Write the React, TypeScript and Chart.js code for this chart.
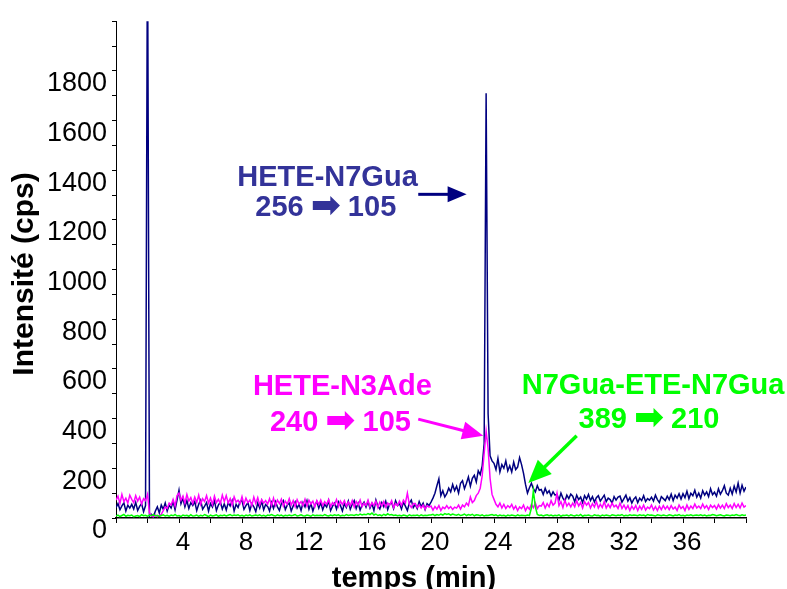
import React, { useEffect, useRef } from 'react';
import { Chart, registerables } from 'chart.js';

Chart.register(...registerables);

// Retention times (min), 8 samples per minute
const TIMES = [
  0, 0.125, 0.25, 0.375, 0.5, 0.625, 0.75, 0.875,
  1, 1.125, 1.25, 1.375, 1.5, 1.625, 1.75, 1.875,
  2, 2.125, 2.25, 2.375, 2.5, 2.625, 2.75, 2.875,
  3, 3.125, 3.25, 3.375, 3.5, 3.625, 3.75, 3.875,
  4, 4.125, 4.25, 4.375, 4.5, 4.625, 4.75, 4.875,
  5, 5.125, 5.25, 5.375, 5.5, 5.625, 5.75, 5.875,
  6, 6.125, 6.25, 6.375, 6.5, 6.625, 6.75, 6.875,
  7, 7.125, 7.25, 7.375, 7.5, 7.625, 7.75, 7.875,
  8, 8.125, 8.25, 8.375, 8.5, 8.625, 8.75, 8.875,
  9, 9.125, 9.25, 9.375, 9.5, 9.625, 9.75, 9.875,
  10, 10.125, 10.25, 10.375, 10.5, 10.625, 10.75, 10.875,
  11, 11.125, 11.25, 11.375, 11.5, 11.625, 11.75, 11.875,
  12, 12.125, 12.25, 12.375, 12.5, 12.625, 12.75, 12.875,
  13, 13.125, 13.25, 13.375, 13.5, 13.625, 13.75, 13.875,
  14, 14.125, 14.25, 14.375, 14.5, 14.625, 14.75, 14.875,
  15, 15.125, 15.25, 15.375, 15.5, 15.625, 15.75, 15.875,
  16, 16.125, 16.25, 16.375, 16.5, 16.625, 16.75, 16.875,
  17, 17.125, 17.25, 17.375, 17.5, 17.625, 17.75, 17.875,
  18, 18.125, 18.25, 18.375, 18.5, 18.625, 18.75, 18.875,
  19, 19.125, 19.25, 19.375, 19.5, 19.625, 19.75, 19.875,
  20, 20.125, 20.25, 20.375, 20.5, 20.625, 20.75, 20.875,
  21, 21.125, 21.25, 21.375, 21.5, 21.625, 21.75, 21.875,
  22, 22.125, 22.25, 22.375, 22.5, 22.625, 22.75, 22.875,
  23, 23.125, 23.25, 23.375, 23.5, 23.625, 23.75, 23.875,
  24, 24.125, 24.25, 24.375, 24.5, 24.625, 24.75, 24.875,
  25, 25.125, 25.25, 25.375, 25.5, 25.625, 25.75, 25.875,
  26, 26.125, 26.25, 26.375, 26.5, 26.625, 26.75, 26.875,
  27, 27.125, 27.25, 27.375, 27.5, 27.625, 27.75, 27.875,
  28, 28.125, 28.25, 28.375, 28.5, 28.625, 28.75, 28.875,
  29, 29.125, 29.25, 29.375, 29.5, 29.625, 29.75, 29.875,
  30, 30.125, 30.25, 30.375, 30.5, 30.625, 30.75, 30.875,
  31, 31.125, 31.25, 31.375, 31.5, 31.625, 31.75, 31.875,
  32, 32.125, 32.25, 32.375, 32.5, 32.625, 32.75, 32.875,
  33, 33.125, 33.25, 33.375, 33.5, 33.625, 33.75, 33.875,
  34, 34.125, 34.25, 34.375, 34.5, 34.625, 34.75, 34.875,
  35, 35.125, 35.25, 35.375, 35.5, 35.625, 35.75, 35.875,
  36, 36.125, 36.25, 36.375, 36.5, 36.625, 36.75, 36.875,
  37, 37.125, 37.25, 37.375, 37.5, 37.625, 37.75, 37.875,
  38, 38.125, 38.25, 38.375, 38.5, 38.625, 38.75, 38.875,
  39, 39.125, 39.25, 39.375, 39.5, 39.625, 39.75, 39.875,
  40,
];

// HETE-N7Gua 256 -> 105 (cps)
const HETE_N7GUA = [
  42, 58, 33, 49, 61, 28, 52, 40,
  55, 36, 63, 30, 47, 58, 25, 50,
  2400, 8, 15, 5, 28, 45, 20, 52,
  35, 60, 28, 52, 40, 66, 33, 72,
  112, 58, 80, 45, 70, 38, 62, 50,
  66, 30, 55, 72, 35, 48, 62, 28,
  58, 44, 70, 30, 52, 64, 36, 57,
  32, 62, 48, 70, 28, 55, 42, 66,
  70, 35, 50, 62, 30, 58, 45, 26,
  60, 40, 68, 33, 54, 47, 28, 62,
  38, 66, 45, 30, 58, 70, 34, 52,
  60, 28, 48, 65, 40, 55, 30, 62,
  45, 70, 35, 58, 28, 52, 66, 40,
  62, 33, 55, 44, 70, 30, 48, 60,
  36, 65, 50, 28, 58, 42, 68, 35,
  55, 70, 38, 60, 32, 52, 64, 44,
  66, 40, 58, 30, 72, 48, 36, 62,
  45, 68, 34, 56, 62, 38, 70, 50,
  58, 36, 64, 48, 30, 60, 72, 42,
  55, 38, 66, 46, 60, 34, 58, 50,
  64, 80, 100, 130, 158, 90, 110, 85,
  98, 120, 105, 135, 110, 128, 100, 140,
  150, 118, 140, 165, 128, 160, 172, 145,
  190, 175, 210, 300, 1710, 420, 250, 230,
  220, 195, 240, 185, 215, 200, 230, 190,
  210, 185, 225, 195, 205, 243, 215, 180,
  135, 100, 122, 140, 118, 105, 130, 112,
  115, 95, 120, 100, 110, 88, 105, 92,
  95, 72, 100, 80, 68, 92, 78, 96,
  88, 65, 92, 74, 84, 62, 90, 76,
  95, 70, 86, 64, 82, 90, 68, 80,
  92, 66, 80, 74, 60, 86, 72, 84,
  88, 64, 78, 92, 68, 82, 60, 76,
  85, 62, 80, 70, 90, 66, 78, 72,
  84, 68, 92, 74, 62, 86, 78, 70,
  88, 74, 96, 70, 92, 80, 98, 76,
  98, 82, 108, 78, 100, 90, 112, 84,
  100, 80, 110, 92, 105, 86, 118, 94,
  104, 88, 118, 96, 110, 130, 100, 92,
  120, 96, 128, 105, 140, 100, 132, 108,
  125,
];

// HETE-N3Ade 240 -> 105 (cps)
const HETE_N3ADE = [
  72, 88, 58, 95, 66, 80, 60, 92,
  75, 62, 90, 68, 84, 56, 78, 70,
  95, 20, 8, 5, 12, 6, 10, 15,
  30, 45, 38, 60, 52, 75, 48, 90,
  100, 72, 88, 60, 95, 68, 82, 58,
  84, 62, 92, 55, 78, 66, 90, 60,
  80, 54, 88, 62, 75, 58, 92, 66,
  90, 60, 78, 52, 85, 64, 72, 58,
  86, 55, 80, 62, 72, 50, 84, 58,
  82, 52, 74, 60, 70, 56, 78, 50,
  80, 50, 72, 58, 76, 48, 68, 55,
  78, 52, 70, 46, 74, 56, 66, 50,
  75, 48, 72, 56, 68, 45, 70, 54,
  72, 50, 66, 55, 74, 46, 62, 52,
  74, 46, 68, 54, 70, 48, 64, 50,
  70, 44, 66, 52, 72, 46, 60, 50,
  72, 45, 62, 50, 68, 42, 64, 48,
  66, 44, 60, 52, 70, 42, 58, 50,
  68, 50, 72, 60, 100, 55, 42, 58,
  58, 42, 54, 40, 52, 36, 50, 44,
  48, 32, 46, 36, 50, 30, 44, 38,
  50, 38, 46, 34, 44, 40, 52, 36,
  52, 45, 60, 50, 85, 62, 70, 90,
  100, 120, 170, 260, 350, 280, 160, 95,
  75, 55, 45, 60, 40, 55, 38, 50,
  42, 55, 36, 48, 30, 45, 38, 52,
  30, 45, 35, 55, 42, 60, 38, 50,
  48, 62, 40, 58, 45, 70, 52, 60,
  100, 50, 66, 42, 72, 48, 60, 45,
  60, 45, 70, 48, 62, 40, 66, 52,
  62, 40, 58, 44, 66, 40, 55, 42,
  66, 40, 55, 42, 60, 45, 52, 38,
  60, 38, 52, 36, 50, 30, 48, 35,
  50, 30, 48, 35, 52, 32, 44, 38,
  52, 32, 46, 30, 48, 34, 50, 36,
  48, 34, 50, 36, 44, 30, 52, 38,
  46, 30, 52, 35, 48, 38, 56, 40,
  48, 38, 56, 40, 50, 34, 52, 42,
  50, 36, 54, 40, 52, 38, 58, 42,
  52, 38, 58, 42, 55, 40, 60, 44,
  50,
];

// N7Gua-ETE-N7Gua 389 -> 210 (cps)
const N7GUA_ETE_N7GUA = [
  8, 12, 6, 10, 14, 7, 11, 9,
  12, 5, 8, 10, 6, 13, 9, 11,
  7, 12, 9, 14, 8, 11, 6, 10,
  13, 8, 11, 7, 12, 9, 14, 8,
  10, 6, 12, 9, 11, 7, 13, 8,
  9, 12, 7, 11, 8, 14, 10, 6,
  12, 8, 10, 13, 7, 11, 9, 12,
  8, 11, 14, 9, 12, 10, 13, 8,
  11, 7, 12, 9, 13, 8, 10, 12,
  9, 13, 8, 11, 7, 12, 10, 14,
  10, 8, 13, 9, 12, 7, 11, 9,
  12, 9, 11, 14, 8, 10, 13, 9,
  8, 12, 10, 7, 13, 9, 11, 10,
  11, 9, 14, 10, 8, 12, 9, 13,
  10, 13, 8, 11, 9, 14, 10, 12,
  12, 10, 14, 11, 16, 12, 15, 13,
  18, 14, 20, 12, 16, 10, 13, 9,
  15, 11, 17, 12, 14, 10, 12, 9,
  11, 8, 12, 10, 7, 13, 9, 11,
  10, 12, 8, 13, 9, 11, 10, 12,
  12, 15, 10, 14, 11, 16, 12, 18,
  14, 17, 12, 16, 13, 11, 15, 10,
  12, 16, 10, 14, 11, 15, 9, 13,
  12, 9, 13, 8, 11, 10, 12, 14,
  10, 13, 8, 12, 9, 11, 7, 12,
  9, 12, 10, 8, 13, 9, 11, 10,
  9, 12, 10, 40, 110, 45, 14, 10,
  12, 8, 11, 13, 9, 12, 8, 11,
  9, 13, 7, 11, 10, 12, 8, 13,
  10, 8, 12, 9, 14, 7, 11, 10,
  12, 9, 8, 13, 10, 11, 7, 12,
  9, 12, 10, 8, 13, 11, 9, 12,
  10, 14, 8, 11, 9, 13, 10, 12,
  11, 9, 13, 10, 12, 8, 14, 11,
  12, 10, 8, 13, 11, 9, 12, 10,
  9, 13, 11, 8, 12, 10, 14, 9,
  11, 8, 12, 10, 13, 9, 11, 12,
  10, 13, 9, 12, 8, 11, 10, 14,
  12, 9, 11, 13, 10, 8, 12, 11,
  9, 12, 10, 14, 11, 9, 13, 10,
  12,
];

const X_TICK_LABELS = [4, 8, 12, 16, 20, 24, 28, 32, 36];
const Y_TICK_LABELS = [0, 200, 400, 600, 800, 1000, 1200, 1400, 1600, 1800];

const X_TITLE = 'temps (min)';
const Y_TITLE = 'Intensité (cps)';

const NAVY = '#000080';
const MAGENTA = '#FF00FF';
const GREEN = '#00FF00';
const FONT = '"Liberation Sans", Arial, "DejaVu Sans", sans-serif';
const ARROW_CHAR = '\u27A1';

// annotation texts anchored in data coordinates (min, cps); parts = [before, after] around an arrow glyph
const LABELS = [
  { parts: ['HETE-N7Gua'], x: 13.43, y: 1336, color: '#333399' },
  { parts: ['256', '105'], x: 13.32, y: 1216, color: '#333399' },
  { parts: ['HETE-N3Ade'], x: 14.37, y: 497, color: MAGENTA },
  { parts: ['240', '105'], x: 14.25, y: 351, color: MAGENTA },
  { parts: ['N7Gua-ETE-N7Gua'], x: 34.1, y: 498, color: GREEN },
  { parts: ['389', '210'], x: 33.84, y: 364, color: GREEN },
];

const ARROWS = [
  { x1: 19.19, y1: 1303, x2: 22.26, y2: 1303, color: NAVY, w: 3, len: 19, half: 8 },
  { x1: 19.19, y1: 398, x2: 23.32, y2: 331, color: MAGENTA, w: 3, len: 21, half: 9 },
  { x1: 29.25, y1: 331, x2: 26.18, y2: 141, color: GREEN, w: 3.5, len: 23, half: 10 },
];

export default function App() {
  const ref = useRef<HTMLCanvasElement>(null);

  useEffect(() => {
    if (!ref.current) return;
    const pts = (vals: number[]) => vals.map((v, i) => ({ x: TIMES[i], y: v }));

    const annotPlugin = {
      id: 'annot',
      afterDraw(chart: any) {
        const ctx = chart.ctx as CanvasRenderingContext2D;
        const xs = chart.scales.x;
        const ys = chart.scales.y;
        const px = (v: number) => xs.getPixelForValue(v);
        const py = (v: number) => ys.getPixelForValue(v);
        const textFont = `bold 29px ${FONT}`;
        const arrowFont = 'bold 36px "DejaVu Sans", sans-serif';
        ctx.save();
        ctx.textBaseline = 'alphabetic';
        for (const l of LABELS) {
          ctx.fillStyle = l.color;
          const cx = px(l.x);
          const by = py(l.y);
          if (l.parts.length === 1) {
            ctx.font = textFont;
            ctx.textAlign = 'center';
            ctx.fillText(l.parts[0], cx, by);
          } else {
            ctx.textAlign = 'left';
            ctx.font = textFont;
            const w1 = ctx.measureText(l.parts[0]).width;
            const w2 = ctx.measureText(l.parts[1]).width;
            ctx.font = arrowFont;
            const wa = ctx.measureText(ARROW_CHAR).width;
            const gap = 7;
            const total = w1 + gap + wa + gap + w2;
            const x0 = cx - total / 2;
            ctx.font = textFont;
            ctx.fillText(l.parts[0], x0, by);
            ctx.font = arrowFont;
            ctx.fillText(ARROW_CHAR, x0 + w1 + gap, by + 1);
            ctx.font = textFont;
            ctx.fillText(l.parts[1], x0 + w1 + gap + wa + gap, by);
          }
        }
        for (const a of ARROWS) {
          const x1 = px(a.x1), y1 = py(a.y1), x2 = px(a.x2), y2 = py(a.y2);
          const ang = Math.atan2(y2 - y1, x2 - x1);
          const bx = x2 - a.len * Math.cos(ang);
          const by = y2 - a.len * Math.sin(ang);
          ctx.strokeStyle = a.color;
          ctx.fillStyle = a.color;
          ctx.lineWidth = a.w;
          ctx.beginPath();
          ctx.moveTo(x1, y1);
          ctx.lineTo(bx + Math.cos(ang), by + Math.sin(ang));
          ctx.stroke();
          ctx.beginPath();
          ctx.moveTo(x2, y2);
          ctx.lineTo(bx + a.half * Math.sin(ang), by - a.half * Math.cos(ang));
          ctx.lineTo(bx - a.half * Math.sin(ang), by + a.half * Math.cos(ang));
          ctx.closePath();
          ctx.fill();
        }
        // axis titles
        ctx.fillStyle = '#000';
        ctx.textAlign = 'center';
        ctx.font = `bold 29px ${FONT}`;
        ctx.fillText(X_TITLE, 414, 587);
        ctx.translate(33, 274);
        ctx.rotate(-Math.PI / 2);
        ctx.font = `bold 30px ${FONT}`;
        ctx.fillText(Y_TITLE, 0, 0);
        ctx.restore();
      },
    };

    const chart = new Chart(ref.current, {
      type: 'line',
      data: {
        datasets: [
          { label: 'N7Gua-ETE-N7Gua', data: pts(N7GUA_ETE_N7GUA), borderColor: GREEN, borderWidth: 1.5, pointRadius: 0, tension: 0 },
          { label: 'HETE-N3Ade', data: pts(HETE_N3ADE), borderColor: MAGENTA, borderWidth: 1.5, pointRadius: 0, tension: 0 },
          { label: 'HETE-N7Gua', data: pts(HETE_N7GUA), borderColor: NAVY, borderWidth: 1.5, pointRadius: 0, tension: 0 },
        ],
      },
      options: {
        animation: false,
        responsive: false,
        events: [],
        plugins: { legend: { display: false }, tooltip: { enabled: false } },
        layout: { padding: { top: 17, right: 41, left: 0, bottom: 0 } },
        scales: {
          x: {
            type: 'linear',
            min: 0,
            max: 40,
            afterFit(s: any) { s.height = 71; },
            ticks: {
              stepSize: 2,
              autoSkip: false,
              maxRotation: 0,
              color: '#000',
              padding: 4,
              labelOffset: 4,
              font: { family: FONT, size: 26 },
              callback: (v: any) => (X_TICK_LABELS.includes(Number(v)) ? String(v) : ''),
            },
            grid: { drawOnChartArea: false, tickLength: 5, tickColor: '#000', tickWidth: 1 },
            border: { color: '#000', width: 1.5 },
          },
          y: {
            min: 0,
            max: 2000,
            afterFit(s: any) { s.width = 116; },
            ticks: {
              stepSize: 100,
              autoSkip: false,
              color: '#000',
              padding: 5,
              labelOffset: 13,
              font: { family: FONT, size: 27 },
              callback: (v: any) => (Y_TICK_LABELS.includes(Number(v)) ? String(v) : ''),
            },
            grid: { drawOnChartArea: false, tickLength: 4, tickColor: '#000', tickWidth: 1 },
            border: { color: '#000', width: 1 },
          },
        },
      },
      plugins: [annotPlugin],
    });
    return () => chart.destroy();
  }, []);

  return (
    <div style={{ position: 'fixed', left: 0, top: 0, width: 787, height: 589, background: '#fff' }}>
      <canvas ref={ref} width={787} height={589} style={{ display: 'block' }} />
    </div>
  );
}
